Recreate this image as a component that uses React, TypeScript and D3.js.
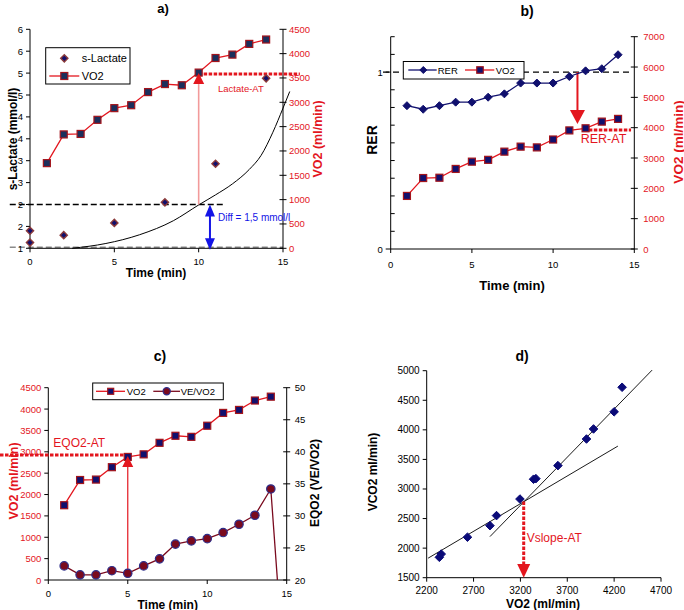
import React from "react";
import * as d3 from "d3";

const FONT = "'Liberation Sans', Arial, Helvetica, sans-serif";

// ---------- shared ----------
const minutes = [1, 2, 3, 4, 5, 6, 7, 8, 9, 10, 11, 12, 13, 14];
const vo2 = [1750, 2340, 2350, 2640, 2880, 2940, 3210, 3375, 3350, 3610, 3910, 3980, 4200, 4290];
const timeTicks = [0, 5, 10, 15];

// ---------- a) ----------
const lactateMinutes = [0, 0, 2, 5, 8, 11, 14];
const lactate = [1.13, 1.4, 1.3, 1.58, 2.05, 2.93, 4.88];
const lactateTrendMinutes = [2.5, 4.5, 6.5, 8.5, 10, 11, 12, 13, 13.7, 14.4, 15, 15.4];
const lactateTrend = [1.0, 1.11, 1.31, 1.63, 1.99, 2.22, 2.47, 2.8, 3.12, 3.65, 4.2, 4.58];
const lactateTicks = [1, 1.5, 2, 2.5, 3, 3.5, 4, 4.5, 5, 5.5, 6];
const lactateTickLabels = ["1", "2", "2", "3", "3", "4", "4", "5", "5", "6", "6"];
const vo2TicksA = [0, 500, 1000, 1500, 2000, 2500, 3000, 3500, 4000, 4500];
const lactateAtMinute = 10;
const lactateAtVo2 = 3580;
const lactateBaseline = 1;
const lactateThreshold = 2;
const diffMinute = 10.67;

// ---------- b) ----------
const rer = [0.81, 0.79, 0.81, 0.83, 0.83, 0.858, 0.877, 0.938, 0.938, 0.938, 0.975, 1.007, 1.019, 1.098];
const rerTicks = [0, 0.1, 0.2, 0.3, 0.4, 0.5, 0.6, 0.7, 0.8, 0.9, 1, 1.1, 1.2];
const rerTickLabels = ["0", "", "", "", "", "", "", "", "", "", "1", "", ""];
const vo2TicksB = [0, 1000, 2000, 3000, 4000, 5000, 6000, 7000];
const rerAtMinute = 11.5;
const rerAtVo2 = 3925;

// ---------- c) ----------
const veVo2Minutes = [1, 2, 3, 4, 5, 6, 7, 8, 9, 10, 11, 12, 13, 14, 15];
const veVo2 = [22.2, 20.8, 20.8, 21.45, 21.05, 22.2, 23.3, 25.6, 26.1, 26.45, 27.4, 28.7, 30.1, 34.2, 0];
const vo2TicksC = [0, 500, 1000, 1500, 2000, 2500, 3000, 3500, 4000, 4500];
const eqTicks = [20, 25, 30, 35, 40, 45, 50];
const eqAtMinute = 5;
const eqAtVo2 = 2925;

// ---------- d) ----------
const vo2D = [2335, 2355, 2635, 2875, 2945, 3195, 3340, 3365, 3600, 3905, 3980, 4200, 4285];
const vco2D = [1845, 1900, 2185, 2380, 2550, 2830, 3165, 3175, 3395, 3845, 4015, 4305, 4720];
const fitLowVo2 = [2215, 4240];
const fitLowVco2 = [1830, 3725];
const fitHighVo2 = [2875, 4605];
const fitHighVco2 = [2195, 5010];
const vslopeAtVo2 = 3235;
const vslopeAtVco2 = 2790;
const dXTicks = [2200, 2700, 3200, 3700, 4200, 4700];
const dYTicks = [1500, 2000, 2500, 3000, 3500, 4000, 4500, 5000];

// ---------- colours ----------
const RED = "#e3161e";
const NAVY = "#10106e";
const SQ_FILL = "#1b2f5c";
const SQ_STROKE = "#a3141c";
const MAROON = "#7a0a1e";
const BLUE = "#1414e6";

function Square({ x, y, s = 7, fill = SQ_FILL, stroke = SQ_STROKE }: any) {
  return <rect x={x - s / 2} y={y - s / 2} width={s} height={s} fill={fill} stroke={stroke} strokeWidth={1.2} />;
}
function Diamond({ x, y, r = 4, fill = NAVY, stroke = NAVY, sw = 1 }: any) {
  return (
    <path d={`M${x},${y - r}L${x + r},${y}L${x},${y + r}L${x - r},${y}Z`} fill={fill} stroke={stroke} strokeWidth={sw} />
  );
}
function Tri({ x, tipY, baseY, w, fill }: any) {
  return <path d={`M${x},${tipY}L${x + w / 2},${baseY}L${x - w / 2},${baseY}Z`} fill={fill} />;
}

function RotTitle({ x, y, text, color = "#000", size = 12 }: any) {
  return (
    <text
      transform={`translate(${x},${y}) rotate(-90)`}
      textAnchor="middle"
      dominantBaseline="central"
      fontWeight="bold"
      fontSize={size}
      fill={color}
      fontFamily={FONT}
    >
      {text}
    </text>
  );
}

function PanelA() {
  const x = d3.scaleLinear().domain([0, 15]).range([30, 283]);
  const yL = d3.scaleLinear().domain([1, 6]).range([248.3, 29.3]);
  const yR = d3.scaleLinear().domain([0, 4500]).range([248.3, 29.3]);
  const vo2Line = d3.line<number>().x((_, i) => x(minutes[i])).y((d) => yR(d))(vo2) || "";
  const trend =
    d3
      .line<number>()
      .curve(d3.curveMonotoneX)
      .x((_, i) => x(lactateTrendMinutes[i]))
      .y((d) => yL(d))(lactateTrend) || "";
  const [top, bottom, left, right] = [yL(6), yL(1), x(0), x(15)];
  return (
    <g fontFamily={FONT}>
      <text x={163} y={13} textAnchor="middle" fontWeight="bold" fontSize={13}>a)</text>
      {/* dashed reference lines */}
      <line x1={x(-1.2)} x2={x(15)} y1={yL(lactateBaseline) - 1} y2={yL(lactateBaseline) - 1} stroke="#8a8a8a" strokeWidth={1.5} strokeDasharray="6 3" />
      <line x1={x(-1.2)} x2={x(11.5)} y1={yL(lactateThreshold)} y2={yL(lactateThreshold)} stroke="#000" strokeWidth={1.4} strokeDasharray="6 3" />
      {/* axes */}
      <line x1={left} x2={left} y1={top} y2={bottom} stroke="#000" />
      <line x1={right} x2={right} y1={top} y2={bottom} stroke="#000" />
      <line x1={left} x2={right} y1={bottom} y2={bottom} stroke="#000" />
      {lactateTicks.map((t, i) => (
        <g key={"l" + i}>
          <line x1={left - 4} x2={left} y1={yL(t)} y2={yL(t)} stroke="#000" />
          <text x={left - 7} y={yL(t)} textAnchor="end" dominantBaseline="central" fontSize={9.5}>{lactateTickLabels[i]}</text>
        </g>
      ))}
      {vo2TicksA.map((t) => (
        <g key={"r" + t}>
          <line x1={right - 3.5} x2={right + 3.5} y1={yR(t)} y2={yR(t)} stroke="#000" />
          <text x={right + 6} y={yR(t)} dominantBaseline="central" fontSize={9.5} fill={RED}>{t}</text>
        </g>
      ))}
      {timeTicks.map((t) => (
        <g key={"x" + t}>
          <line x1={x(t)} x2={x(t)} y1={bottom} y2={bottom + 4} stroke="#000" />
          <text x={x(t)} y={bottom + 17} textAnchor="middle" fontSize={9.5}>{t}</text>
        </g>
      ))}
      <text x={156} y={277} textAnchor="middle" fontWeight="bold" fontSize={12}>Time (min)</text>
      <RotTitle x={13} y={139} text="s-Lactate (mmol/l)" />
      <RotTitle x={318} y={139} text="VO2 (ml/min)" color={RED} size={12.5} />
      {/* trend curve */}
      <path d={trend} fill="none" stroke="#000" strokeWidth={1} />
      {/* Lactate AT */}
      <line x1={x(lactateAtMinute)} x2={x(lactateAtMinute)} y1={yR(lactateAtVo2) + 10} y2={yL(lactateThreshold)} stroke="#f29a9a" strokeWidth={1.6} />
      <line x1={x(lactateAtMinute)} x2={x(16)} y1={yR(lactateAtVo2)} y2={yR(lactateAtVo2)} stroke={RED} strokeWidth={3} strokeDasharray="3.5 1.5" />
      <text x={218} y={92} fontSize={9.5} fill={RED}>Lactate-AT</text>
      {/* VO2 */}
      <path d={vo2Line} fill="none" stroke={RED} strokeWidth={1.3} />
      {vo2.map((v, i) => (
        <Square key={"s" + i} x={x(minutes[i])} y={yR(v)} />
      ))}
      <Tri x={x(lactateAtMinute)} tipY={yR(lactateAtVo2) - 1} baseY={yR(lactateAtVo2) + 10} w={11} fill={RED} />
      {/* Lactate points */}
      {lactate.map((v, i) => (
        <Diamond key={"d" + i} x={x(lactateMinutes[i])} y={yL(v)} r={3.6} fill={NAVY} stroke="#8b3a3a" sw={1.4} />
      ))}
      {/* Diff arrow */}
      <line x1={x(diffMinute)} x2={x(diffMinute)} y1={yL(lactateThreshold) + 8} y2={yL(lactateBaseline) - 8} stroke={BLUE} strokeWidth={2} />
      <Tri x={x(diffMinute)} tipY={yL(lactateThreshold)} baseY={yL(lactateThreshold) + 12} w={10} fill={BLUE} />
      <Tri x={x(diffMinute)} tipY={yL(lactateBaseline) + 1.5} baseY={yL(lactateBaseline) - 10} w={10} fill={BLUE} />
      <text x={218} y={220.5} fontSize={10} fill={BLUE}>Diff = 1,5 mmol/l</text>
      {/* legend */}
      <rect x={45.7} y={47.7} width={84.3} height={36.3} fill="#fff" stroke="#000" strokeWidth={1} />
      <Diamond x={64.3} y={58.3} r={3.6} fill={NAVY} stroke="#8b3a3a" sw={1.4} />
      <text x={81.7} y={62} fontSize={11}>s-Lactate</text>
      <line x1={49.3} x2={79.3} y1={76} y2={76} stroke={RED} strokeWidth={1.3} />
      <Square x={64.3} y={76} />
      <text x={81.7} y={80} fontSize={11}>VO2</text>
    </g>
  );
}

function PanelB() {
  const x = d3.scaleLinear().domain([0, 15]).range([390.7, 634.3]);
  const yL = d3.scaleLinear().domain([0, 1.2]).range([249, 36.7]);
  const yR = d3.scaleLinear().domain([0, 7000]).range([249, 36.7]);
  const rerLine = d3.line<number>().x((_, i) => x(minutes[i])).y((d) => yL(d))(rer) || "";
  const vo2Line = d3.line<number>().x((_, i) => x(minutes[i])).y((d) => yR(d))(vo2) || "";
  const [top, bottom, left, right] = [yL(1.2), yL(0), x(0), x(15)];
  const atX = x(rerAtMinute);
  return (
    <g fontFamily={FONT}>
      <text x={527} y={16} textAnchor="middle" fontWeight="bold" fontSize={14}>b)</text>
      <line x1={383} x2={632} y1={yL(1)} y2={yL(1)} stroke="#000" strokeWidth={1.2} strokeDasharray="6 4" />
      <line x1={left} x2={left} y1={top} y2={bottom} stroke="#000" />
      <line x1={right} x2={right} y1={top} y2={bottom} stroke="#000" />
      <line x1={left} x2={right} y1={bottom} y2={bottom} stroke="#000" />
      {rerTicks.map((t, i) => (
        <g key={"l" + i}>
          {rerTickLabels[i] ? (
            <line x1={left - 5} x2={left} y1={yL(t)} y2={yL(t)} stroke="#000" />
          ) : (
            <line x1={left} x2={left + 4} y1={yL(t)} y2={yL(t)} stroke="#000" />
          )}
          <text x={left - 8} y={yL(t)} textAnchor="end" dominantBaseline="central" fontSize={9.5}>{rerTickLabels[i]}</text>
        </g>
      ))}
      {vo2TicksB.map((t) => (
        <g key={"r" + t}>
          <line x1={right - 3.5} x2={right + 3.5} y1={yR(t)} y2={yR(t)} stroke="#000" />
          <text x={right + 9} y={yR(t)} dominantBaseline="central" fontSize={9.5} fill={RED}>{t}</text>
        </g>
      ))}
      {timeTicks.map((t) => (
        <g key={"x" + t}>
          <line x1={x(t)} x2={x(t)} y1={bottom} y2={bottom + 4} stroke="#000" />
          <text x={x(t)} y={bottom + 19} textAnchor="middle" fontSize={9.5}>{t}</text>
        </g>
      ))}
      <text x={512} y={290} textAnchor="middle" fontWeight="bold" fontSize={13}>Time (min)</text>
      <RotTitle x={371.7} y={140} text="RER" size={14} />
      <RotTitle x={678} y={142} text="VO2 (ml/min)" color={RED} size={13.5} />
      {/* RER-AT */}
      <line x1={atX} x2={atX} y1={yL(1)} y2={112} stroke={RED} strokeWidth={2} />
      <Tri x={atX} tipY={124} baseY={110} w={15} fill={RED} />
      <line x1={x(12.2)} x2={x(14.8)} y1={yR(rerAtVo2)} y2={yR(rerAtVo2)} stroke={RED} strokeWidth={3} strokeDasharray="3.5 1.5" />
      <text x={580.7} y={143} fontSize={12.5} fill={RED}>RER-AT</text>
      <path d={rerLine} fill="none" stroke={NAVY} strokeWidth={1.3} />
      {rer.map((v, i) => (
        <Diamond key={"d" + i} x={x(minutes[i])} y={yL(v)} r={4} />
      ))}
      <path d={vo2Line} fill="none" stroke={RED} strokeWidth={1.3} />
      {vo2.map((v, i) => (
        <Square key={"s" + i} x={x(minutes[i])} y={yR(v)} fill={NAVY} />
      ))}
      {/* legend */}
      <rect x={403.3} y={61.5} width={120.7} height={17.5} fill="#fff" stroke="#000" />
      <line x1={408.3} x2={436.7} y1={70} y2={70} stroke={NAVY} strokeWidth={1.3} />
      <Diamond x={423.3} y={70} r={3.5} />
      <text x={437.7} y={73.5} fontSize={9.5}>RER</text>
      <line x1={465} x2={494.3} y1={70} y2={70} stroke={RED} strokeWidth={1.3} />
      <Square x={480} y={70} s={6.5} fill={NAVY} />
      <text x={495.7} y={73.5} fontSize={9.5}>VO2</text>
    </g>
  );
}

function PanelC() {
  const x = d3.scaleLinear().domain([0, 15]).range([48.3, 286.7]);
  const yL = d3.scaleLinear().domain([0, 4500]).range([580, 387.7]);
  const yR = d3.scaleLinear().domain([20, 50]).range([580, 387.7]);
  const vo2Line = d3.line<number>().x((_, i) => x(minutes[i])).y((d) => yL(d))(vo2) || "";
  const veLine = d3.line<number>().x((_, i) => x(veVo2Minutes[i])).y((d) => yR(d))(veVo2) || "";
  const [top, bottom, left, right] = [yL(4500), yL(0), x(0), x(15)];
  return (
    <g fontFamily={FONT}>
      <defs>
        <clipPath id="clipC">
          <rect x={left - 10} y={top - 10} width={right - left + 20} height={bottom - top + 10} />
        </clipPath>
      </defs>
      <text x={160} y={361} textAnchor="middle" fontWeight="bold" fontSize={14}>c)</text>
      <line x1={left} x2={left} y1={top} y2={bottom} stroke="#000" />
      <line x1={right} x2={right} y1={top} y2={bottom} stroke="#000" />
      <line x1={left} x2={right} y1={bottom} y2={bottom} stroke="#000" />
      {vo2TicksC.map((t) => (
        <g key={"l" + t}>
          <line x1={left - 4} x2={left} y1={yL(t)} y2={yL(t)} stroke="#000" />
          <text x={left - 7} y={yL(t)} textAnchor="end" dominantBaseline="central" fontSize={9.5} fill={RED}>{t}</text>
        </g>
      ))}
      {eqTicks.map((t) => (
        <g key={"r" + t}>
          <line x1={right - 3.5} x2={right + 3.5} y1={yR(t)} y2={yR(t)} stroke="#000" />
          <text x={right + 8} y={yR(t)} dominantBaseline="central" fontSize={9.5}>{t}</text>
        </g>
      ))}
      {timeTicks.map((t) => (
        <g key={"x" + t}>
          <line x1={x(t)} x2={x(t)} y1={bottom} y2={bottom + 4} stroke="#000" />
          <text x={x(t)} y={bottom + 16.5} textAnchor="middle" fontSize={9.5}>{t}</text>
        </g>
      ))}
      <text x={167.7} y={608.5} textAnchor="middle" fontWeight="bold" fontSize={12}>Time (min)</text>
      <RotTitle x={14} y={481} text="VO2 (ml/min)" color={RED} size={12.5} />
      <RotTitle x={315} y={483} text="EQO2 (VE/VO2)" size={12} />
      {/* EQO2-AT */}
      <line x1={0} x2={x(eqAtMinute) - 2} y1={yL(eqAtVo2)} y2={yL(eqAtVo2)} stroke={RED} strokeWidth={3} strokeDasharray="3.5 1.5" />
      <text x={53.3} y={446.7} fontSize={12} fill={RED}>EQO2-AT</text>
      <line x1={x(eqAtMinute)} x2={x(eqAtMinute)} y1={yL(eqAtVo2) + 10} y2={yR(veVo2[4]) - 4} stroke={RED} strokeWidth={1.2} />
      <path d={vo2Line} fill="none" stroke={RED} strokeWidth={1.3} />
      {vo2.map((v, i) => (
        <Square key={"s" + i} x={x(minutes[i])} y={yL(v)} fill={NAVY} />
      ))}
      <Tri x={x(eqAtMinute)} tipY={yL(eqAtVo2) + 1} baseY={yL(eqAtVo2) + 12} w={11} fill={RED} />
      <g clipPath="url(#clipC)">
        <path d={veLine} fill="none" stroke={MAROON} strokeWidth={1.3} />
        {veVo2.map((v, i) => (
          <circle key={"c" + i} cx={x(veVo2Minutes[i])} cy={yR(v)} r={4.2} fill={MAROON} stroke="#2e2e8a" strokeWidth={1.2} />
        ))}
      </g>
      {/* legend */}
      <rect x={92.7} y={383} width={130.6} height={16.7} fill="#fff" stroke="#000" />
      <line x1={96} x2={125} y1={391.3} y2={391.3} stroke={RED} strokeWidth={1.3} />
      <Square x={110.7} y={391.3} s={6} fill={NAVY} />
      <text x={126.7} y={394.8} fontSize={9.5}>VO2</text>
      <line x1={153.3} x2={180} y1={391.3} y2={391.3} stroke={MAROON} strokeWidth={1.3} />
      <circle cx={166.7} cy={391.3} r={3.6} fill={MAROON} stroke="#2e2e8a" strokeWidth={1.2} />
      <text x={180.7} y={394.8} fontSize={9.5}>VE/VO2</text>
    </g>
  );
}

function PanelD() {
  const x = d3.scaleLinear().domain([2200, 4700]).range([426.7, 661]);
  const y = d3.scaleLinear().domain([1500, 5000]).range([577.7, 370.7]);
  const [top, bottom, left, right] = [y(5000), y(1500), x(2200), x(4700)];
  const atX = x(vslopeAtVo2);
  return (
    <g fontFamily={FONT}>
      <text x={522} y={361} textAnchor="middle" fontWeight="bold" fontSize={14}>d)</text>
      <line x1={left} x2={left} y1={top} y2={bottom} stroke="#000" />
      <line x1={left} x2={right} y1={bottom} y2={bottom} stroke="#000" />
      {dYTicks.map((t) => (
        <g key={"l" + t}>
          <line x1={left - 4} x2={left} y1={y(t)} y2={y(t)} stroke="#000" />
          <text x={left - 7} y={y(t)} textAnchor="end" dominantBaseline="central" fontSize={10}>{t}</text>
        </g>
      ))}
      {dXTicks.map((t) => (
        <g key={"x" + t}>
          <line x1={x(t)} x2={x(t)} y1={bottom} y2={bottom + 4} stroke="#000" />
          <text x={x(t)} y={bottom + 16} textAnchor="middle" fontSize={10}>{t}</text>
        </g>
      ))}
      <text x={543} y={607.5} textAnchor="middle" fontWeight="bold" fontSize={12}>VO2 (ml/min)</text>
      <RotTitle x={373} y={472} text="VCO2 ml/min)" size={12} />
      <line x1={x(fitLowVo2[0])} x2={x(fitLowVo2[1])} y1={y(fitLowVco2[0])} y2={y(fitLowVco2[1])} stroke="#000" strokeWidth={0.9} />
      <line x1={x(fitHighVo2[0])} x2={x(fitHighVo2[1])} y1={y(fitHighVco2[0])} y2={y(fitHighVco2[1])} stroke="#000" strokeWidth={0.9} />
      {vo2D.map((v, i) => (
        <Diamond key={"d" + i} x={x(v)} y={y(vco2D[i])} r={4.3} fill="#0a0a78" stroke="#0a0a78" />
      ))}
      <line x1={atX} x2={atX} y1={y(vslopeAtVco2)} y2={565} stroke={RED} strokeWidth={3} strokeDasharray="3.5 1.5" />
      <Tri x={atX} tipY={bottom} baseY={564} w={13} fill={RED} />
      <text x={526.7} y={542.3} fontSize={12} fill={RED}>Vslope-AT</text>
    </g>
  );
}

export default function App() {
  return (
    <svg
      width={684}
      height={610}
      viewBox="0 0 684 610"
      style={{ position: "absolute", left: 0, top: 0, background: "#fff" }}
    >
      <rect width={684} height={610} fill="#fff" />
      <PanelA />
      <PanelB />
      <PanelC />
      <PanelD />
    </svg>
  );
}
